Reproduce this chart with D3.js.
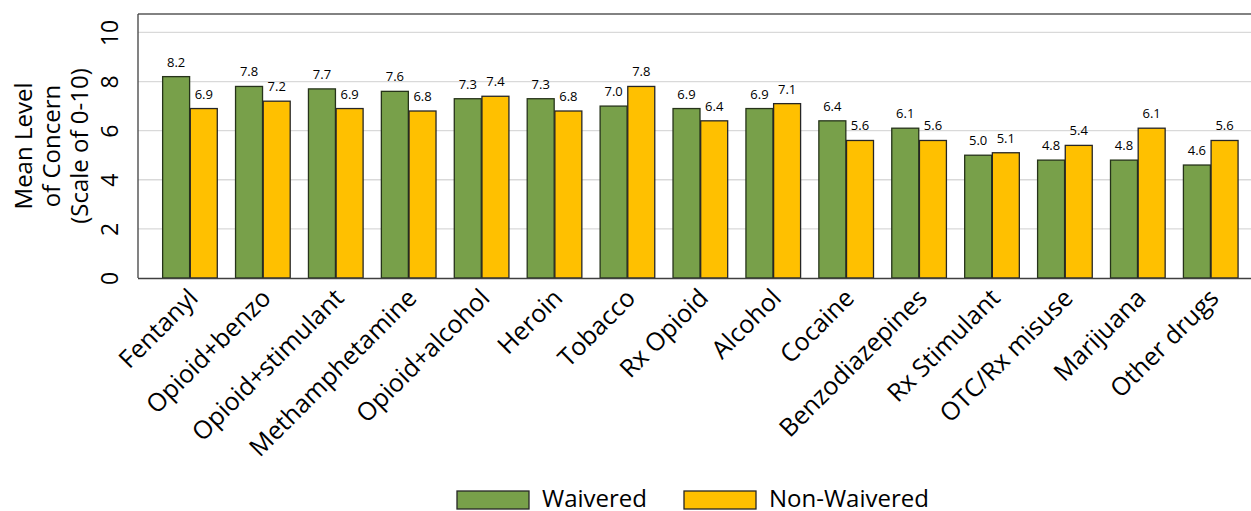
<!DOCTYPE html>
<html><head><meta charset="utf-8">
<script src="https://cdn.jsdelivr.net/npm/d3@7"></script>
<style>body{margin:0;background:#fff;} svg{display:block;font-family:"Open Sans",sans-serif;}</style>
</head><body>
<svg id="c" width="1251" height="511"></svg>
<script>
const categories = ["Fentanyl","Opioid+benzo","Opioid+stimulant","Methamphetamine","Opioid+alcohol","Heroin","Tobacco","Rx Opioid","Alcohol","Cocaine","Benzodiazepines","Rx Stimulant","OTC/Rx misuse","Marijuana","Other drugs"];
const waivered =    [8.2,7.8,7.7,7.6,7.3,7.3,7.0,6.9,6.9,6.4,6.1,5.0,4.8,4.8,4.6];
const nonWaivered = [6.9,7.2,6.9,6.8,7.4,6.8,7.8,6.4,7.1,5.6,5.6,5.1,5.4,6.1,5.6];
const seriesNames = ["Waivered","Non-Waivered"];
const colors = ["#78A04A","#FFC000"];
const yTicks = [0,2,4,6,8,10];

const svg = d3.select("#c");
const mLeft = 138, mTop = 14, mBottom = 278, mRight = 1251;
const x = d3.scaleBand().domain(categories).range([153.5, 1247.2]).paddingInner(0).paddingOuter(0);
const xs = d3.scaleBand().domain([0,1]).range([0, x.bandwidth()]).paddingInner(0.025).paddingOuter(0.33);
const y = d3.scaleLinear().domain([0, 10.75]).range([mBottom, mTop]);

// gridlines
svg.append("g").selectAll("line").data(yTicks.filter(d=>d>0)).join("line")
  .attr("x1", mLeft).attr("x2", mRight).attr("y1", d=>y(d)).attr("y2", d=>y(d))
  .attr("stroke", "#d9d9d9").attr("stroke-width", 1.3);

// frame
svg.append("line").attr("x1", mLeft).attr("x2", mRight).attr("y1", mTop).attr("y2", mTop).attr("stroke", "#595959").attr("stroke-width", 1.3);
svg.append("line").attr("x1", mLeft).attr("x2", mLeft).attr("y1", mTop).attr("y2", mBottom).attr("stroke", "#404040").attr("stroke-width", 1.3);

// y axis
const yAxis = svg.append("g").attr("transform", `translate(${mLeft},0)`).call(d3.axisLeft(y).tickValues(yTicks).tickSize(0).tickFormat(d3.format("d")));
yAxis.select(".domain").remove();
yAxis.selectAll(".tick text").attr("font-size", 23).attr("fill", "#000").attr("font-family", "Open Sans")
  .attr("x", 0).attr("y", 0).attr("dy", "0").attr("text-anchor", "middle")
  .attr("transform", "translate(-20,0) rotate(-90)");

// axis title
const title = svg.append("text").attr("transform", "translate(0,146) rotate(-90)").attr("text-anchor", "middle").attr("font-size", 24).attr("fill","#000");
["Mean Level","of Concern","(Scale of 0-10)"].forEach((t,i)=>{
  title.append("tspan").attr("x", 0).attr("y", 32 + i*28).text(t);
});

// bars
const data = categories.map((c,i)=>({c, v:[waivered[i], nonWaivered[i]]}));
const g = svg.append("g");
data.forEach(d=>{
  d.v.forEach((v,j)=>{
    g.append("rect").attr("x", x(d.c)+xs(j)).attr("width", xs.bandwidth())
      .attr("y", y(v)).attr("height", y(0)-y(v))
      .attr("fill", colors[j]).attr("stroke", j===0?"#26331a":"#262626").attr("stroke-width", 1.3);
    g.append("text").attr("x", x(d.c)+xs(j)+xs.bandwidth()/2).attr("y", y(v)-10)
      .attr("text-anchor","middle").attr("font-size", 13).attr("fill","#000").text(v.toFixed(1));
  });
});

// x axis
const xAxis = svg.append("g").attr("transform", `translate(0,${mBottom})`).call(d3.axisBottom(x).tickSize(0));
xAxis.select(".domain").attr("d", `M${mLeft},0.5H${mRight}`).attr("stroke","#404040").attr("stroke-width",1.5);
xAxis.selectAll(".tick text").attr("font-size", 25).attr("fill","#000").attr("font-family","Open Sans")
  .attr("text-anchor","end").attr("dy", "0.71em").attr("y", 0)
  .attr("transform", "translate(-3,9) rotate(-45)");

// legend
const lg = svg.append("g");
const legX = [457, 684];
seriesNames.forEach((s,i)=>{
  lg.append("rect").attr("x", legX[i]).attr("y", 491).attr("width", 72).attr("height", 18)
    .attr("fill", colors[i]).attr("stroke", "#262626").attr("stroke-width", 1.3);
  lg.append("text").attr("x", legX[i]+85).attr("y", 507).attr("font-size", 24).attr("fill","#000").text(s);
});
</script>
</body></html>
